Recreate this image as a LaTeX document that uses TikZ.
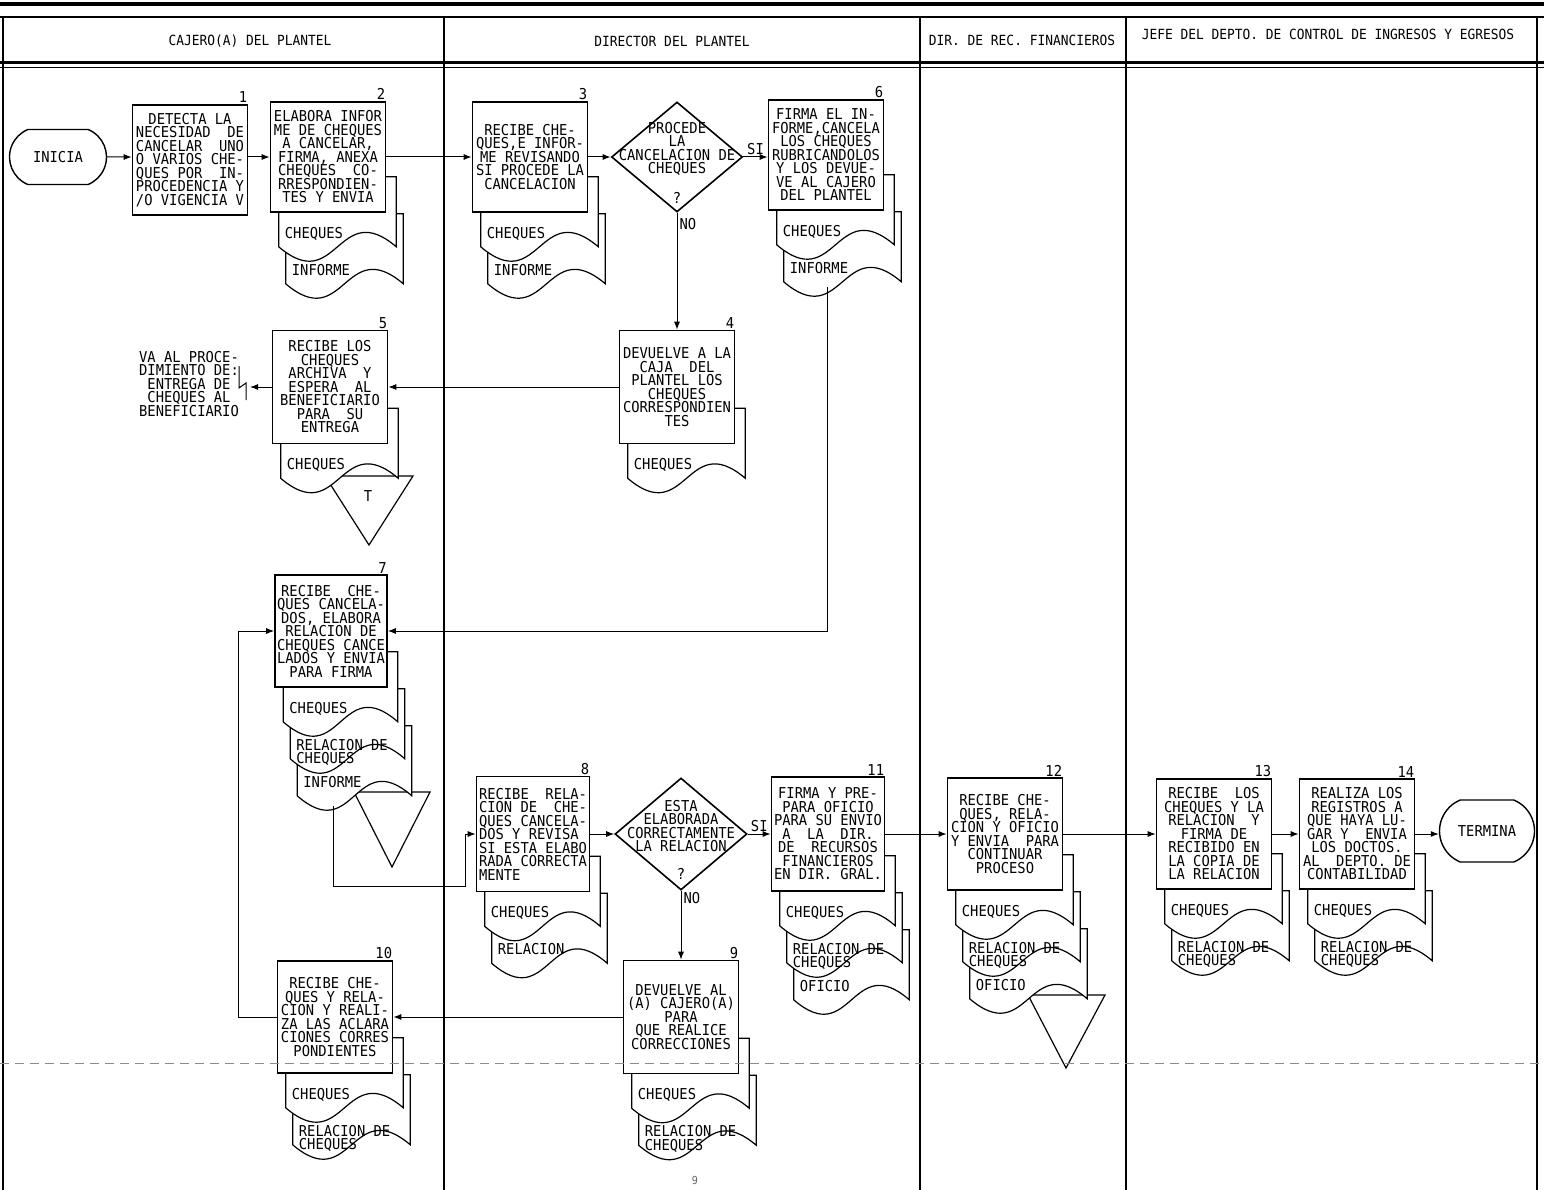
\documentclass[tikz,border=0pt]{standalone}
\usepackage{fontspec}
\newfontfamily\dotfont[FakeStretch=0.92]{DejaVu Sans Mono}
\usetikzlibrary{arrows.meta,shapes.geometric,shapes.misc,calc,backgrounds}

\tikzset{
  txt/.style={font=\dotfont\fontsize{15pt}{13.5pt}\selectfont, align=center, inner sep=0pt},
  hdr/.style={font=\dotfont\fontsize{14pt}{13pt}\selectfont, inner sep=0pt},
  proc/.style={txt, draw, line width=1.6pt, fill=white, minimum width=115pt, minimum height=110pt, inner sep=2pt},
  decision/.style={draw, diamond, line width=1.6pt, fill=white, minimum width=131pt, minimum height=110pt, inner sep=0pt},
  terminal/.style={txt, draw, rounded rectangle, rounded rectangle arc length=135, line width=1.4pt, fill=white, minimum width=97pt, minimum height=55pt},
  doc/.style={draw, line width=1.2pt, fill=white},
  num/.style={txt, anchor=south east, inner sep=1pt},
  lbl/.style={txt, inner sep=2pt},
  flow/.style={line width=1pt, -{Latex[length=8pt,width=6pt]}},
}

% document sheet behind a box: box, level, label
\newcommand\docu[3]{%
  \path (#1.south west) ++(9+7*#2,-36+37*#2) coordinate (dtl)
        (#1.south east) ++(10+7*#2,-36+37*#2) coordinate (dtr);
  \filldraw[doc] (dtl) -- (dtr) -- ($(dtr)+(0,70)$)
    .. controls ($(dtl)!0.5!(dtr)+(0,20)$) and ($(dtl)!0.5!(dtr)+(0,120)$) .. ($(dtl)+(0,70)$) -- cycle;
  \node[txt, align=left, anchor=north west] at ($(dtl)+(6,50)$) {#3};
}

\begin{document}
\begin{tikzpicture}[x=1pt,y=-1pt]
\useasboundingbox (0,0) rectangle (1544,1190);

% frame and lanes
\draw[line width=4pt] (0,4) -- (1544,4);
\draw[line width=1.5pt] (0,17) -- (1544,17);
\draw[line width=3pt] (0,63) -- (1544,63);
\draw[line width=1pt] (0,68) -- (1544,68);
\foreach \x/\w in {3/1.5, 444/2.5, 920/2, 1126/2, 1537/1.5}
  \draw[line width=\w pt] (\x,17) -- (\x,1190);
\foreach \x/\y/\t [count=\i] in
  { 250/41/{CAJERO(A) DEL PLANTEL},
    672/41/{DIRECTOR DEL PLANTEL},
   1022/40/{DIR. DE REC. FINANCIEROS},
   1328/34/{JEFE DEL DEPTO. DE CONTROL DE INGRESOS Y EGRESOS}
  }
  \node[hdr] (h\i) at (\x,\y) {\t};

% steps
\node[terminal] (inicia) at (58,157) {INICIA};
\node[proc] (s1) at (190,160) {DETECTA LA\\NECESIDAD~~DE\\CANCELAR~~UNO\\O VARIOS CHE-\\QUES POR~~IN-\\PROCEDENCIA Y\\/O VIGENCIA V};
\node[proc] (s2) at (328,157) {ELABORA INFOR\\ME DE CHEQUES\\A CANCELAR,\\FIRMA, ANEXA\\CHEQUES~~CO-\\RRESPONDIEN-\\TES Y ENVIA};
\node[proc] (s3) at (530,157) {RECIBE CHE-\\QUES,E INFOR-\\ME REVISANDO\\SI PROCEDE LA\\CANCELACION};
\node[decision] (d1) at (677,157) {};
\node[txt] (d1t) at ([yshift=8pt]d1.center) {PROCEDE\\LA\\CANCELACION DE\\CHEQUES};
\node[txt] (d1q) at ([yshift=15pt]d1.south) {?};
\node[proc] (s6) at (826,155) {FIRMA EL IN-\\FORME,CANCELA\\LOS CHEQUES\\RUBRICANDOLOS\\Y LOS DEVUE-\\VE AL CAJERO\\DEL PLANTEL};
\node[proc, minimum height=113pt] (s4) at (677,387) {DEVUELVE A LA\\CAJA~~DEL\\PLANTEL LOS\\CHEQUES\\CORRESPONDIEN\\TES};
\node[proc, minimum height=113pt] (s5) at (330,387) {RECIBE LOS\\CHEQUES\\ARCHIVA~~Y\\ESPERA~~AL\\BENEFICIARIO\\PARA~~SU\\ENTREGA};
\node[txt] (va) at (189,384) {VA AL PROCE-\\DIMIENTO DE:\\ENTREGA DE\\CHEQUES AL\\BENEFICIARIO};
\coordinate (vaend) at (250,387);
\node[proc, minimum width=112pt, minimum height=112pt] (s7) at (331,631) {RECIBE~~CHE-\\QUES CANCELA-\\DOS, ELABORA\\RELACION DE\\CHEQUES CANCE\\LADOS Y ENVIA\\PARA FIRMA};
\node[proc, align=left, minimum width=113pt, minimum height=115pt] (s8) at (533,834) {RECIBE~~RELA-\\CION DE~~CHE-\\QUES CANCELA-\\DOS Y REVISA\\SI ESTA ELABO\\RADA CORRECTA\\MENTE};
\node[decision, minimum width=132pt, minimum height=112pt] (d2) at (681,834) {};
\node[txt] (d2t) at ([yshift=8pt]d2.center) {ESTA\\ELABORADA\\CORRECTAMENTE\\LA RELACION};
\node[txt] (d2q) at ([yshift=17pt]d2.south) {?};
\node[proc, minimum width=113pt, minimum height=114pt] (s11) at (828,834) {FIRMA Y PRE-\\PARA OFICIO\\PARA SU ENVIO\\A~~LA~~DIR.\\DE~~RECURSOS\\FINANCIEROS\\EN DIR. GRAL.};
\node[proc, minimum height=113pt] (s9) at (681,1017) {DEVUELVE AL\\(A) CAJERO(A)\\PARA\\QUE REALICE\\CORRECCIONES};
\node[proc, minimum height=112pt] (s10) at (335,1017) {RECIBE CHE-\\QUES Y RELA-\\CION Y REALI-\\ZA LAS ACLARA\\CIONES CORRES\\PONDIENTES};
\node[proc, minimum height=112pt] (s12) at (1005,834) {RECIBE CHE-\\QUES, RELA-\\CION Y OFICIO\\Y ENVIA~~PARA\\CONTINUAR\\PROCESO};
\node[proc] (s13) at (1214,834) {RECIBE~~LOS\\CHEQUES Y LA\\RELACION~~Y\\FIRMA DE\\RECIBIDO EN\\LA COPIA DE\\LA RELACION};
\node[proc] (s14) at (1357,834) {REALIZA LOS\\REGISTROS A\\QUE HAYA LU-\\GAR Y~~ENVIA\\LOS DOCTOS.\\AL~~DEPTO. DE\\CONTABILIDAD};
\node[terminal, minimum width=95pt, minimum height=62pt] (termina) at (1487,831) {TERMINA};

\foreach \n/\t in {s1/1,s2/2,s3/3,s4/4,s5/5,s6/6,s7/7,s8/8,s9/9,s10/10,s11/11,s12/12,s13/13,s14/14}
  \node[num] (n\t) at (\n.north east) {\t};

% documents and files behind the boxes
\begin{scope}[on background layer]
  \draw[doc] (325,476) -- (413,476) -- (369,545) -- cycle;
  \node[txt] (tT) at (368,496) {T};
  \draw[doc] (354,792) -- (430,792) -- (392,867) -- cycle;
  \draw[doc] (1028,995) -- (1105,995) -- (1066,1068) -- cycle;
  \foreach \b/\k/\lab in
    { s2/1/INFORME, s2/0/CHEQUES,
      s3/1/INFORME, s3/0/CHEQUES,
      s6/1/INFORME, s6/0/CHEQUES,
      s4/0/CHEQUES, s5/0/CHEQUES,
      s7/2/INFORME, s7/1/{RELACION DE\\CHEQUES}, s7/0/CHEQUES,
      s8/1/RELACION, s8/0/CHEQUES,
      s11/2/OFICIO, s11/1/{RELACION DE\\CHEQUES}, s11/0/CHEQUES,
      s9/1/{RELACION DE\\CHEQUES}, s9/0/CHEQUES,
      s10/1/{RELACION DE\\CHEQUES}, s10/0/CHEQUES,
      s12/2/OFICIO, s12/1/{RELACION DE\\CHEQUES}, s12/0/CHEQUES,
      s13/1/{RELACION DE\\CHEQUES}, s13/0/CHEQUES,
      s14/1/{RELACION DE\\CHEQUES}, s14/0/CHEQUES
    }
    {\docu{\b}{\k}{\lab}}
\end{scope}

% off-page connector
\draw[line width=1pt] (239,366) -- (239,388) -- (246,383) -- (246,400);

% connectors
\coordinate (s6d) at (827,287);
\coordinate (s7d) at (333,806);
\coordinate (j1) at (465,886);
\draw[flow] (inicia) -- (s1.west |- inicia);
\draw[flow] (s1.east |- inicia) -- (s2);
\draw[flow] (s2) -- (s3);
\draw[flow] (s3) -- (d1);
\draw[flow] (d1.east) -- node[lbl, above] {SI} (d1.east -| s6.west);
\draw[flow] (d1) -- node[lbl, pos=0.1, right] {NO} (s4);
\draw[flow] (s4) -- (s5);
\draw[flow] (s5) -- (vaend);
\draw[flow] (s6d) |- (s7);
\draw[flow] (s7d) |- (j1) |- (s8);
\draw[flow] (s8) -- (d2);
\draw[flow] (d2) -- node[lbl, above] {SI} (s11);
\draw[flow] (d2) -- node[lbl, pos=0.1, right] {NO} (s9);
\draw[flow] (s9) -- (s10);
\draw[flow] (s10.west) -- ++(-38,0) |- (s7);
\draw[flow] (s11) -- (s12);
\draw[flow] (s12) -- (s13);
\draw[flow] (s13) -- (s14);
\draw[flow] (s14.east) -- (s14.east -| termina.west);

% fold line and page number
\draw[black!45, line width=0.8pt, dash pattern=on 9pt off 6pt] (0,1063) -- (1544,1063);
\node[txt, font=\dotfont\fontsize{11pt}{11pt}\selectfont, text=black!60] (pg) at (695,1180) {9};
\end{tikzpicture}
\end{document}
